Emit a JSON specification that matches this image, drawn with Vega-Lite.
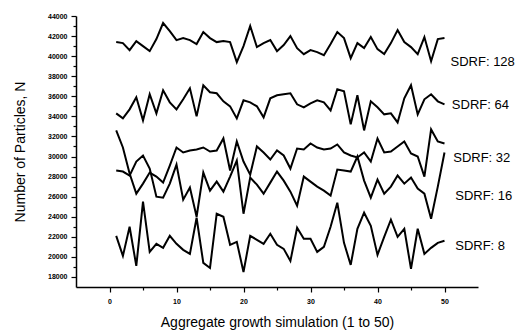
{
  "$schema": "https://vega.github.io/schema/vega-lite/v6.json",
  "width": 402,
  "height": 271,
  "autosize": {"type": "none"},
  "padding": {"left": 76, "top": 16, "right": 41, "bottom": 45},
  "background": "white",
  "config": {"view": {"stroke": null}, "font": "Liberation Sans", "axis": {"labelOverlap": false, "labelBound": false, "labelFlush": false}},
  "datasets": {
    "series": [
      {"i":1,"SDRF 128":41400,"SDRF 64":34300,"SDRF 32":32600,"SDRF 16":28600,"SDRF 8":22100},
      {"i":2,"SDRF 128":41300,"SDRF 64":33800,"SDRF 32":30900,"SDRF 16":28500,"SDRF 8":20100},
      {"i":3,"SDRF 128":40600,"SDRF 64":34700,"SDRF 32":28300,"SDRF 16":28100,"SDRF 8":23000},
      {"i":4,"SDRF 128":41500,"SDRF 64":35900,"SDRF 32":26300,"SDRF 16":29500,"SDRF 8":19100},
      {"i":5,"SDRF 128":41000,"SDRF 64":33600,"SDRF 32":27300,"SDRF 16":30100,"SDRF 8":25500},
      {"i":6,"SDRF 128":40500,"SDRF 64":36200,"SDRF 32":28400,"SDRF 16":28800,"SDRF 8":20500},
      {"i":7,"SDRF 128":41700,"SDRF 64":34300,"SDRF 32":28000,"SDRF 16":26000,"SDRF 8":21300},
      {"i":8,"SDRF 128":43300,"SDRF 64":36600,"SDRF 32":27400,"SDRF 16":25900,"SDRF 8":20900},
      {"i":9,"SDRF 128":42500,"SDRF 64":35400,"SDRF 32":29100,"SDRF 16":27300,"SDRF 8":22100},
      {"i":10,"SDRF 128":41600,"SDRF 64":34700,"SDRF 32":30900,"SDRF 16":29200,"SDRF 8":21300},
      {"i":11,"SDRF 128":41800,"SDRF 64":35700,"SDRF 32":30400,"SDRF 16":25700,"SDRF 8":20700},
      {"i":12,"SDRF 128":41600,"SDRF 64":36800,"SDRF 32":30600,"SDRF 16":26900,"SDRF 8":20300},
      {"i":13,"SDRF 128":41200,"SDRF 64":34000,"SDRF 32":30700,"SDRF 16":24000,"SDRF 8":23900},
      {"i":14,"SDRF 128":42400,"SDRF 64":37100,"SDRF 32":30900,"SDRF 16":28400,"SDRF 8":19400},
      {"i":15,"SDRF 128":41800,"SDRF 64":36400,"SDRF 32":30500,"SDRF 16":26600,"SDRF 8":18900},
      {"i":16,"SDRF 128":41400,"SDRF 64":36300,"SDRF 32":30600,"SDRF 16":27500,"SDRF 8":24300},
      {"i":17,"SDRF 128":41500,"SDRF 64":35500,"SDRF 32":31800,"SDRF 16":26500,"SDRF 8":24000},
      {"i":18,"SDRF 128":41400,"SDRF 64":35000,"SDRF 32":28600,"SDRF 16":28000,"SDRF 8":21200},
      {"i":19,"SDRF 128":39400,"SDRF 64":33800,"SDRF 32":31500,"SDRF 16":29600,"SDRF 8":21500},
      {"i":20,"SDRF 128":41000,"SDRF 64":35600,"SDRF 32":29500,"SDRF 16":24300,"SDRF 8":18500},
      {"i":21,"SDRF 128":43000,"SDRF 64":35400,"SDRF 32":28200,"SDRF 16":27900,"SDRF 8":22100},
      {"i":22,"SDRF 128":40900,"SDRF 64":35000,"SDRF 32":31000,"SDRF 16":27200,"SDRF 8":21700},
      {"i":23,"SDRF 128":41300,"SDRF 64":33900,"SDRF 32":30400,"SDRF 16":26300,"SDRF 8":21300},
      {"i":24,"SDRF 128":41600,"SDRF 64":35800,"SDRF 32":29700,"SDRF 16":27400,"SDRF 8":22300},
      {"i":25,"SDRF 128":40500,"SDRF 64":36100,"SDRF 32":30600,"SDRF 16":28500,"SDRF 8":21200},
      {"i":26,"SDRF 128":41100,"SDRF 64":36200,"SDRF 32":30100,"SDRF 16":27600,"SDRF 8":20800},
      {"i":27,"SDRF 128":42000,"SDRF 64":36300,"SDRF 32":28800,"SDRF 16":26500,"SDRF 8":19600},
      {"i":28,"SDRF 128":40800,"SDRF 64":35200,"SDRF 32":30800,"SDRF 16":25100,"SDRF 8":22900},
      {"i":29,"SDRF 128":40200,"SDRF 64":34900,"SDRF 32":30700,"SDRF 16":28000,"SDRF 8":21800},
      {"i":30,"SDRF 128":40600,"SDRF 64":35300,"SDRF 32":31300,"SDRF 16":27500,"SDRF 8":21800},
      {"i":31,"SDRF 128":40400,"SDRF 64":35600,"SDRF 32":30900,"SDRF 16":27000,"SDRF 8":20500},
      {"i":32,"SDRF 128":40100,"SDRF 64":35400,"SDRF 32":30700,"SDRF 16":26600,"SDRF 8":21000},
      {"i":33,"SDRF 128":41200,"SDRF 64":34600,"SDRF 32":30800,"SDRF 16":26100,"SDRF 8":23000},
      {"i":34,"SDRF 128":42400,"SDRF 64":36700,"SDRF 32":31200,"SDRF 16":28700,"SDRF 8":25400},
      {"i":35,"SDRF 128":41800,"SDRF 64":36500,"SDRF 32":30400,"SDRF 16":28600,"SDRF 8":21400},
      {"i":36,"SDRF 128":39800,"SDRF 64":33200,"SDRF 32":30100,"SDRF 16":28500,"SDRF 8":19200},
      {"i":37,"SDRF 128":41300,"SDRF 64":36100,"SDRF 32":29900,"SDRF 16":30000,"SDRF 8":22800},
      {"i":38,"SDRF 128":40800,"SDRF 64":32600,"SDRF 32":30400,"SDRF 16":27600,"SDRF 8":24400},
      {"i":39,"SDRF 128":41900,"SDRF 64":35500,"SDRF 32":29500,"SDRF 16":25900,"SDRF 8":23100},
      {"i":40,"SDRF 128":40700,"SDRF 64":34900,"SDRF 32":31800,"SDRF 16":27700,"SDRF 8":20200},
      {"i":41,"SDRF 128":40200,"SDRF 64":34200,"SDRF 32":30400,"SDRF 16":26300,"SDRF 8":22000},
      {"i":42,"SDRF 128":41300,"SDRF 64":34300,"SDRF 32":30500,"SDRF 16":27000,"SDRF 8":23700},
      {"i":43,"SDRF 128":42600,"SDRF 64":33400,"SDRF 32":31000,"SDRF 16":28100,"SDRF 8":22000},
      {"i":44,"SDRF 128":41400,"SDRF 64":35800,"SDRF 32":31500,"SDRF 16":27300,"SDRF 8":22800},
      {"i":45,"SDRF 128":40900,"SDRF 64":37100,"SDRF 32":30300,"SDRF 16":27900,"SDRF 8":18800},
      {"i":46,"SDRF 128":40200,"SDRF 64":34200,"SDRF 32":30000,"SDRF 16":26800,"SDRF 8":22800},
      {"i":47,"SDRF 128":41900,"SDRF 64":35700,"SDRF 32":28000,"SDRF 16":26300,"SDRF 8":20300},
      {"i":48,"SDRF 128":39500,"SDRF 64":36200,"SDRF 32":32700,"SDRF 16":23800,"SDRF 8":20900},
      {"i":49,"SDRF 128":41700,"SDRF 64":35500,"SDRF 32":31500,"SDRF 16":27000,"SDRF 8":21400},
      {"i":50,"SDRF 128":41800,"SDRF 64":35200,"SDRF 32":31300,"SDRF 16":30400,"SDRF 8":21600}
    ],
    "labels": [
      {"label":"SDRF: 128","lx":50.9,"ly":39400},
      {"label":"SDRF: 64","lx":51.1,"ly":35100},
      {"label":"SDRF: 32","lx":51.3,"ly":29900},
      {"label":"SDRF: 16","lx":51.6,"ly":26100},
      {"label":"SDRF: 8","lx":51.6,"ly":21100}
    ]
  },
  "encoding": {
    "x": {
      "type": "quantitative",
      "scale": {"domain": [-5, 55], "nice": false, "zero": false},
      "axis": {
        "title": "Aggregate growth simulation (1 to 50)",
        "values": [0,5,10,15,20,25,30,35,40,45,50],
        "labelExpr": "datum.value % 10 == 0 ? format(datum.value, 'd') : ''",
        "labelOverlap": false,
        "tickSize": {"condition": {"test": "datum.value % 10 == 0", "value": 5}, "value": 3},
        "grid": false,
        "domainColor": "black", "domainWidth": 1.5,
        "tickColor": "black", "tickWidth": 1.2,
        "labelColor": "black", "labelFontSize": 7, "labelFontWeight": "bold", "labelPadding": 5,
        "titleColor": "black", "titleFontSize": 14, "titleFontWeight": "normal", "titlePadding": 11
      }
    },
    "y": {
      "type": "quantitative",
      "scale": {"domain": [17000, 44000], "nice": false, "zero": false},
      "axis": {
        "title": "Number of Particles, N",
        "values": [18000,19000,20000,21000,22000,23000,24000,25000,26000,27000,28000,29000,30000,31000,32000,33000,34000,35000,36000,37000,38000,39000,40000,41000,42000,43000,44000],
        "labelExpr": "datum.value % 2000 == 0 ? format(datum.value, 'd') : ''",
        "labelOverlap": false,
        "tickSize": {"condition": {"test": "datum.value % 2000 == 0", "value": 5}, "value": 3},
        "grid": false,
        "domainColor": "black", "domainWidth": 1.5,
        "tickColor": "black", "tickWidth": 1.2,
        "labelColor": "black", "labelFontSize": 7, "labelFontWeight": "bold", "labelPadding": 4,
        "titleColor": "black", "titleFontSize": 14, "titleFontWeight": "normal", "titlePadding": 20
      }
    }
  },
  "layer": [
    {
      "data": {"name": "series"},
      "transform": [{"fold": ["SDRF 128","SDRF 64","SDRF 32","SDRF 16","SDRF 8"], "as": ["series","n"]}],
      "mark": {"type": "line", "color": "black", "strokeWidth": 2},
      "encoding": {
        "x": {"field": "i", "type": "quantitative"},
        "y": {"field": "n", "type": "quantitative"},
        "detail": {"field": "series"}
      }
    },
    {
      "data": {"name": "labels"},
      "mark": {"type": "text", "align": "left", "baseline": "middle", "fontSize": 13, "color": "black"},
      "encoding": {
        "x": {"field": "lx", "type": "quantitative"},
        "y": {"field": "ly", "type": "quantitative"},
        "text": {"field": "label"}
      }
    }
  ]
}
